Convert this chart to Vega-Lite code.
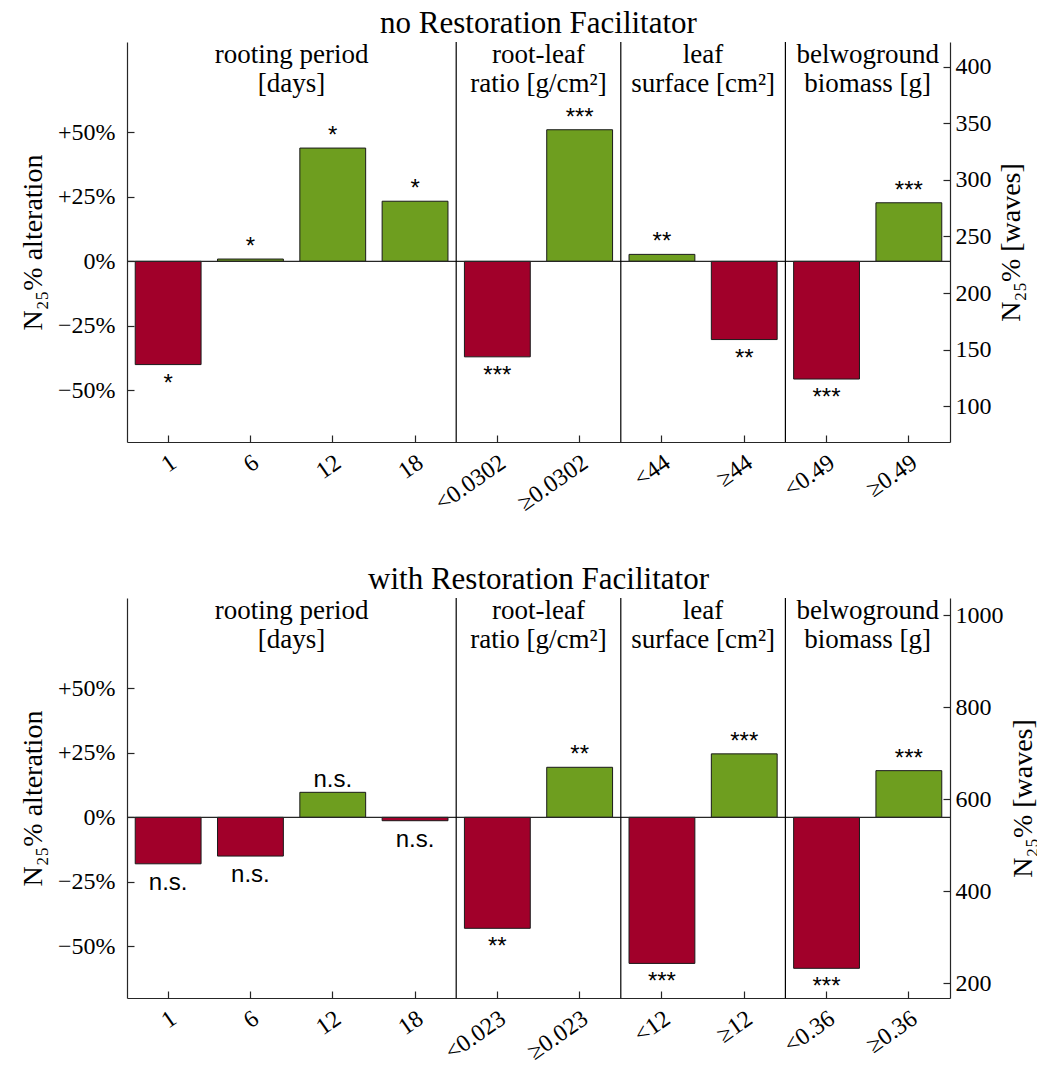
{
  "$schema": "https://vega.github.io/schema/vega-lite/v6.json",
  "padding": {"left": 19, "top": 7, "right": 0, "bottom": 0},
  "config": {
    "view": {"stroke": null},
    "font": "Liberation Serif",
    "axis": {
      "labelFont": "Liberation Serif",
      "labelFontSize": 24,
      "labelColor": "#000000",
      "titleFont": "Liberation Serif",
      "titleFontSize": 28,
      "titleFontWeight": "normal",
      "titleColor": "#000000",
      "domainColor": "#262626",
      "domainWidth": 1.2,
      "tickColor": "#262626",
      "tickWidth": 1.2,
      "tickSize": -7,
      "grid": false,
      "labelOverlap": false
    },
    "title": {
      "font": "Liberation Serif",
      "fontSize": 31,
      "fontWeight": "normal",
      "color": "#000000",
      "baseline": "alphabetic",
      "anchor": "middle",
      "frame": "group",
      "offset": 1
    }
  },
  "datasets": {
    "noRF": [
      {"label": "1", "pct": -40.0, "waves": 136.8, "sig": "*"},
      {"label": "6", "pct": 0.9, "waves": 230.1, "sig": "*"},
      {"label": "12", "pct": 43.9, "waves": 328.1, "sig": "*"},
      {"label": "18", "pct": 23.3, "waves": 281.1, "sig": "*"},
      {"label": "<0.0302", "pct": -37.0, "waves": 143.6, "sig": "***"},
      {"label": "≥0.0302", "pct": 51.0, "waves": 344.3, "sig": "***"},
      {"label": "<44", "pct": 2.7, "waves": 234.2, "sig": "**"},
      {"label": "≥44", "pct": -30.3, "waves": 158.9, "sig": "**"},
      {"label": "<0.49", "pct": -45.6, "waves": 124.0, "sig": "***"},
      {"label": "≥0.49", "pct": 22.7, "waves": 279.8, "sig": "***"}
    ],
    "withRF": [
      {"label": "1", "pct": -18.0, "waves": 460.0, "sig": "n.s."},
      {"label": "6", "pct": -15.0, "waves": 476.9, "sig": "n.s."},
      {"label": "12", "pct": 9.7, "waves": 615.4, "sig": "n.s."},
      {"label": "18", "pct": -1.3, "waves": 553.7, "sig": "n.s."},
      {"label": "<0.023", "pct": -43.0, "waves": 319.8, "sig": "**"},
      {"label": "≥0.023", "pct": 19.4, "waves": 669.8, "sig": "**"},
      {"label": "<12", "pct": -56.6, "waves": 243.5, "sig": "***"},
      {"label": "≥12", "pct": 24.6, "waves": 699.0, "sig": "***"},
      {"label": "<0.36", "pct": -58.5, "waves": 232.8, "sig": "***"},
      {"label": "≥0.36", "pct": 18.1, "waves": 662.5, "sig": "***"}
    ],
    "sepNoRF": [{"label": "<0.0302"}, {"label": "<44"}, {"label": "<0.49"}],
    "sepWithRF": [{"label": "<0.023"}, {"label": "<12"}, {"label": "<0.36"}],
    "grpNoRF": [
      {"label": "12", "text": ["rooting period", "[days]"]},
      {"label": "≥0.0302", "text": ["root-leaf", "ratio [g/cm²]"]},
      {"label": "≥44", "text": ["leaf", "surface [cm²]"]},
      {"label": "≥0.49", "text": ["belwoground", "biomass [g]"]}
    ],
    "grpWithRF": [
      {"label": "12", "text": ["rooting period", "[days]"]},
      {"label": "≥0.023", "text": ["root-leaf", "ratio [g/cm²]"]},
      {"label": "≥12", "text": ["leaf", "surface [cm²]"]},
      {"label": "≥0.36", "text": ["belwoground", "biomass [g]"]}
    ],
    "origin": [{}]
  },
  "spacing": 156,
  "bounds": "flush",
  "vconcat": [
    {
      "title": {"text": "no Restoration Facilitator"},
      "width": 823,
      "height": 400,
      "layer": [
        {
          "layer": [
            {
              "data": {"name": "noRF"},
              "mark": {"type": "bar", "width": {"band": 0.8}, "stroke": "#1a1a1a", "strokeWidth": 1},
              "encoding": {
                "x": {
                  "field": "label", "type": "nominal", "title": null,
                  "scale": {"domain": ["1", "6", "12", "18", "<0.0302", "≥0.0302", "<44", "≥44", "<0.49", "≥0.49"], "paddingInner": 0, "paddingOuter": 0},
                  "axis": {"title": null, "labelAngle": -35, "labelAlign": "right", "labelBaseline": "top", "labelPadding": 15, "labelOffset": -1, "labelFontSize": 24}
                },
                "y": {
                  "field": "pct", "type": "quantitative",
                  "scale": {"domain": [-70, 85], "nice": false, "zero": false},
                  "axis": {
                    "title": "N₂₅% alteration",
                    "values": [-50, -25, 0, 25, 50],
                    "labelExpr": "datum.value > 0 ? '+' + datum.value + '%' : (datum.value < 0 ? '−' + abs(datum.value) + '%' : '0%')",
                    "labelPadding": 19,
                    "titlePadding": 10
                  }
                },
                "color": {"condition": {"test": "datum.pct < 0", "value": "#A1002A"}, "value": "#6E9E1F"}
              }
            },
            {
              "data": {"name": "origin"},
              "mark": {"type": "rule", "color": "#262626", "strokeWidth": 1.2},
              "encoding": {"y": {"datum": 0}}
            },
            {
              "data": {"name": "sepNoRF"},
              "mark": {"type": "rule", "color": "#000000", "strokeWidth": 1.2},
              "encoding": {
                "x": {"field": "label", "type": "nominal", "bandPosition": 0, "title": null,
                      "scale": {"domain": ["1", "6", "12", "18", "<0.0302", "≥0.0302", "<44", "≥44", "<0.49", "≥0.49"]}}
              }
            },
            {
              "data": {"name": "grpNoRF"},
              "mark": {"type": "text", "font": "Liberation Serif", "fontSize": 27, "align": "center", "baseline": "alphabetic", "dy": 20.5, "lineHeight": 29.5, "color": "#000000"},
              "encoding": {
                "x": {"field": "label", "type": "nominal", "bandPosition": 0, "title": null,
                      "scale": {"domain": ["1", "6", "12", "18", "<0.0302", "≥0.0302", "<44", "≥44", "<0.49", "≥0.49"]}},
                "y": {"datum": 85},
                "text": {"field": "text"}
              }
            },
            {
              "data": {"name": "noRF"},
              "transform": [{"filter": "datum.pct >= 0"}],
              "mark": {"type": "text", "font": "Liberation Sans", "fontSize": 24, "baseline": "alphabetic", "dy": -5, "color": "#000000"},
              "encoding": {
                "x": {"field": "label", "type": "nominal", "title": null,
                      "scale": {"domain": ["1", "6", "12", "18", "<0.0302", "≥0.0302", "<44", "≥44", "<0.49", "≥0.49"]}},
                "y": {"field": "pct", "type": "quantitative", "title": "N₂₅% alteration"},
                "text": {"field": "sig"}
              }
            },
            {
              "data": {"name": "noRF"},
              "transform": [{"filter": "datum.pct < 0"}],
              "mark": {"type": "text", "font": "Liberation Sans", "fontSize": 24, "baseline": "alphabetic", "dy": 26, "color": "#000000"},
              "encoding": {
                "x": {"field": "label", "type": "nominal", "title": null,
                      "scale": {"domain": ["1", "6", "12", "18", "<0.0302", "≥0.0302", "<44", "≥44", "<0.49", "≥0.49"]}},
                "y": {"field": "pct", "type": "quantitative", "title": "N₂₅% alteration"},
                "text": {"field": "sig"}
              }
            }
          ]
        },
        {
          "data": {"name": "noRF"},
          "mark": {"type": "point", "opacity": 0},
          "encoding": {
            "y": {
              "field": "waves", "type": "quantitative",
              "scale": {"domain": [68.4, 421.8], "nice": false, "zero": false},
              "axis": {"orient": "right", "title": "N₂₅% [waves]", "values": [100, 150, 200, 250, 300, 350, 400], "format": "d",
                       "titleAngle": -90, "titleBaseline": "top", "titlePadding": 6, "labelPadding": 12}
            }
          }
        }
      ],
      "resolve": {"scale": {"y": "independent"}}
    },
    {
      "title": {"text": "with Restoration Facilitator"},
      "width": 823,
      "height": 400,
      "layer": [
        {
          "layer": [
            {
              "data": {"name": "withRF"},
              "mark": {"type": "bar", "width": {"band": 0.8}, "stroke": "#1a1a1a", "strokeWidth": 1},
              "encoding": {
                "x": {
                  "field": "label", "type": "nominal", "title": null,
                  "scale": {"domain": ["1", "6", "12", "18", "<0.023", "≥0.023", "<12", "≥12", "<0.36", "≥0.36"], "paddingInner": 0, "paddingOuter": 0},
                  "axis": {"title": null, "labelAngle": -35, "labelAlign": "right", "labelBaseline": "top", "labelPadding": 15, "labelOffset": -1, "labelFontSize": 24}
                },
                "y": {
                  "field": "pct", "type": "quantitative",
                  "scale": {"domain": [-70, 85], "nice": false, "zero": false},
                  "axis": {
                    "title": "N₂₅% alteration",
                    "values": [-50, -25, 0, 25, 50],
                    "labelExpr": "datum.value > 0 ? '+' + datum.value + '%' : (datum.value < 0 ? '−' + abs(datum.value) + '%' : '0%')",
                    "labelPadding": 19,
                    "titlePadding": 10
                  }
                },
                "color": {"condition": {"test": "datum.pct < 0", "value": "#A1002A"}, "value": "#6E9E1F"}
              }
            },
            {
              "data": {"name": "origin"},
              "mark": {"type": "rule", "color": "#262626", "strokeWidth": 1.2},
              "encoding": {"y": {"datum": 0}}
            },
            {
              "data": {"name": "sepWithRF"},
              "mark": {"type": "rule", "color": "#000000", "strokeWidth": 1.2},
              "encoding": {
                "x": {"field": "label", "type": "nominal", "bandPosition": 0, "title": null,
                      "scale": {"domain": ["1", "6", "12", "18", "<0.023", "≥0.023", "<12", "≥12", "<0.36", "≥0.36"]}}
              }
            },
            {
              "data": {"name": "grpWithRF"},
              "mark": {"type": "text", "font": "Liberation Serif", "fontSize": 27, "align": "center", "baseline": "alphabetic", "dy": 20.5, "lineHeight": 29.5, "color": "#000000"},
              "encoding": {
                "x": {"field": "label", "type": "nominal", "bandPosition": 0, "title": null,
                      "scale": {"domain": ["1", "6", "12", "18", "<0.023", "≥0.023", "<12", "≥12", "<0.36", "≥0.36"]}},
                "y": {"datum": 85},
                "text": {"field": "text"}
              }
            },
            {
              "data": {"name": "withRF"},
              "transform": [{"filter": "datum.pct >= 0"}],
              "mark": {"type": "text", "font": "Liberation Sans", "fontSize": 24, "baseline": "alphabetic", "dy": -5, "color": "#000000"},
              "encoding": {
                "x": {"field": "label", "type": "nominal", "title": null,
                      "scale": {"domain": ["1", "6", "12", "18", "<0.023", "≥0.023", "<12", "≥12", "<0.36", "≥0.36"]}},
                "y": {"field": "pct", "type": "quantitative", "title": "N₂₅% alteration"},
                "text": {"field": "sig"}
              }
            },
            {
              "data": {"name": "withRF"},
              "transform": [{"filter": "datum.pct < 0"}],
              "mark": {"type": "text", "font": "Liberation Sans", "fontSize": 24, "baseline": "alphabetic", "dy": 26, "color": "#000000"},
              "encoding": {
                "x": {"field": "label", "type": "nominal", "title": null,
                      "scale": {"domain": ["1", "6", "12", "18", "<0.023", "≥0.023", "<12", "≥12", "<0.36", "≥0.36"]}},
                "y": {"field": "pct", "type": "quantitative", "title": "N₂₅% alteration"},
                "text": {"field": "sig"}
              }
            }
          ]
        },
        {
          "data": {"name": "withRF"},
          "mark": {"type": "point", "opacity": 0},
          "encoding": {
            "y": {
              "field": "waves", "type": "quantitative",
              "scale": {"domain": [168.3, 1037.9], "nice": false, "zero": false},
              "axis": {"orient": "right", "title": "N₂₅% [waves]", "values": [200, 400, 600, 800, 1000], "format": "d",
                       "titleAngle": -90, "titleBaseline": "top", "titlePadding": 6, "labelPadding": 12}
            }
          }
        }
      ],
      "resolve": {"scale": {"y": "independent"}}
    }
  ]
}
